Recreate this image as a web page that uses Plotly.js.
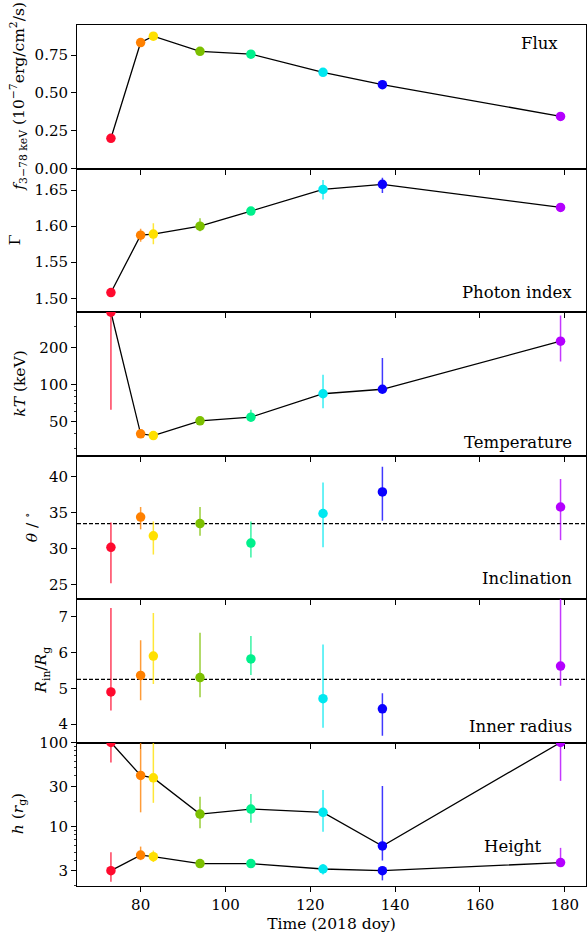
<!DOCTYPE html>
<html>
<head>
<meta charset="utf-8">
<script src="https://cdn.plot.ly/plotly-3.0.1.min.js"></script>
<style>
  html, body { margin: 0; padding: 0; background: #fff; }
  #chart { width: 587px; height: 933px; }
</style>
</head>
<body>
<div id="chart"></div>
<script>
// Observation epochs (day of year, 2018) and their colours
const days = [73, 80, 83, 94, 106, 123, 137, 179];
const pointColors = ['#ff0a2e', '#ff8000', '#ffe000', '#7cc000', '#00f08c', '#00e8f0', '#0a00ff', '#b400ff'];

// 3-78 keV flux (1e-7 erg/cm^2/s)
const flux = [0.20, 0.834, 0.876, 0.776, 0.757, 0.637, 0.555, 0.345];

// Photon index with upper / lower bounds
const gamma   = [1.508, 1.5875, 1.589, 1.600, 1.621, 1.651, 1.658, 1.626];
const gammaHi = [1.514, 1.5965, 1.604, 1.611, 1.626, 1.664, 1.667, 1.632];
const gammaLo = [1.502, 1.5785, 1.575, 1.593, 1.616, 1.637, 1.646, 1.620];

// Coronal temperature kT (keV)
const kT   = [390, 39.5, 38.2, 50.4, 54, 84, 91.4, 226];
const kTHi = [1000, 42, 40.5, 53, 62, 120, 165, 367];
const kTLo = [62, 37.5, 36.3, 48, 50, 64, 87, 154];

// Inclination (deg)
const incl   = [30.2, 34.4, 31.8, 33.5, 30.8, 34.9, 37.9, 35.8];
const inclHi = [33.65, 35.8, 33.8, 35.8, 33.8, 39.2, 41.4, 39.7];
const inclLo = [25.2, 32.7, 29.2, 31.8, 28.8, 30.2, 33.9, 31.2];
const inclMean = 33.5;

// Inner disc radius (R_g)
const rin   = [4.90, 5.36, 5.90, 5.30, 5.82, 4.71, 4.43, 5.62];
const rinHi = [7.24, 6.34, 7.10, 6.55, 6.46, 6.22, 4.86, 7.8];
const rinLo = [4.38, 4.67, 5.12, 4.75, 5.37, 3.90, 3.68, 5.07];
const rinMean = 5.25;

// Lamp-post heights (r_g): upper and lower source
const hUpper   = [100, 40.6, 38, 14.1, 16.2, 14.8, 5.9, 100];
const hUpperHi = [200, 200, 200, 22.7, 24.5, 27.2, 30.4, 200];
const hUpperLo = [58, 14.8, 19.2, 9.6, 11.1, 8.7, 3.96, 35];
const hLower   = [3.0, 4.6, 4.4, 3.64, 3.64, 3.14, 3.0, 3.74];
const hLowerHi = [4.97, 5.8, 5.2, 3.8, 3.8, 3.6, 3.3, 5.6];
const hLowerLo = [2.22, 4.0, 3.8, 3.5, 3.5, 2.7, 2.3, 3.6];

// Tick positions
const xTicks = [80, 100, 120, 140, 160, 180];
const fluxTicks = [0, 0.25, 0.5, 0.75];
const gammaTicks = [1.50, 1.55, 1.60, 1.65];
const kTTicks = [50, 100, 200];
const kTMinor = [30, 40, 60, 70, 80, 90, 300];
const inclTicks = [25, 30, 35, 40];
const rinTicks = [4, 5, 6, 7];
const hTicks = [3, 10, 30, 100];
const hMinor = [2, 4, 5, 6, 7, 8, 9, 20, 40, 50, 60, 70, 80, 90];

const SERIF = 'DejaVu Serif, serif';
const W = 587, H = 933;
const M = { l: 77, r: 1, t: 25, b: 47 };
const PW = W - M.l - M.r, PH = H - M.t - M.b;

function rgba(hex, a) {
  const n = parseInt(hex.slice(1), 16);
  return `rgba(${(n >> 16) & 255},${(n >> 8) & 255},${n & 255},${a})`;
}

const traces = [];

function addSeries(axisIdx, vals, hi, lo, withLine) {
  const xa = axisIdx === 1 ? 'x' : 'x' + axisIdx;
  const ya = axisIdx === 1 ? 'y' : 'y' + axisIdx;
  if (withLine) {
    traces.push({
      x: days, y: vals, xaxis: xa, yaxis: ya, type: 'scatter', mode: 'lines',
      line: { color: '#000', width: 1.3 }, hoverinfo: 'skip'
    });
  }
  days.forEach((d, i) => {
    const t = {
      x: [d], y: [vals[i]], xaxis: xa, yaxis: ya, type: 'scatter', mode: 'markers',
      marker: { color: pointColors[i], size: 9.5, line: { width: 0 } }
    };
    if (hi && lo) {
      t.error_y = {
        type: 'data', symmetric: false,
        array: [hi[i] - vals[i]], arrayminus: [vals[i] - lo[i]],
        color: rgba(pointColors[i], 0.78), thickness: 1.5, width: 0
      };
    }
    traces.push(t);
  });
}

addSeries(1, flux, null, null, true);
addSeries(2, gamma, gammaHi, gammaLo, true);
addSeries(3, kT, kTHi, kTLo, true);
addSeries(4, incl, inclHi, inclLo, false);
addSeries(5, rin, rinHi, rinLo, false);
addSeries(6, hUpper, hUpperHi, hUpperLo, true);
addSeries(6, hLower, hLowerHi, hLowerLo, true);

const tickFont = { family: SERIF, size: 15, color: '#000' };

const layout = {
  width: W, height: H, margin: M,
  paper_bgcolor: '#fff', plot_bgcolor: '#fff',
  showlegend: false,
  font: { family: SERIF, color: '#000' },
  annotations: [], shapes: []
};

const yAxes = [
  { tickvals: fluxTicks, tickformat: '.2f', range: [0, 0.95] },
  { tickvals: gammaTicks, tickformat: '.2f', range: [1.481, 1.680] },
  { type: 'log', tickvals: kTTicks, range: [1.419, 2.593], minorVals: kTMinor },
  { tickvals: inclTicks, range: [23.03, 42.95] },
  { tickvals: rinTicks, range: [3.49, 7.49] },
  { type: 'log', tickvals: hTicks, range: [0.295, 2.0], minorVals: hMinor }
];

for (let k = 1; k <= 6; k++) {
  const dom = [(6 - k) / 6, (7 - k) / 6];
  const xName = k === 1 ? 'xaxis' : 'xaxis' + k;
  const yName = k === 1 ? 'yaxis' : 'yaxis' + k;
  const yRef = k === 1 ? 'y' : 'y' + k;
  layout[xName] = {
    range: [65, 185], tickvals: xTicks, anchor: yRef,
    ticks: 'outside', ticklen: 5, tickwidth: 1, tickcolor: '#000',
    showticklabels: k === 6, tickfont: tickFont,
    showline: true, mirror: true, linecolor: '#000', linewidth: 1,
    showgrid: false, zeroline: false
  };
  if (k > 1) layout[xName].matches = 'x';
  const cfg = yAxes[k - 1];
  const ya = {
    domain: dom, anchor: k === 1 ? 'x' : 'x' + k,
    range: cfg.range, tickvals: cfg.tickvals,
    ticks: 'outside', ticklen: 5, tickwidth: 1, tickcolor: '#000',
    tickfont: tickFont,
    showline: true, mirror: true, linecolor: '#000', linewidth: 1,
    showgrid: false, zeroline: false
  };
  if (cfg.tickformat) ya.tickformat = cfg.tickformat;
  if (cfg.type) ya.type = cfg.type;
  if (cfg.minorVals) {
    ya.minor = { tickmode: 'array', tickvals: cfg.minorVals, ticks: 'outside',
                 ticklen: 2.5, tickwidth: 0.8, tickcolor: '#000', showgrid: false };
  }
  layout[yName] = ya;
}

layout.xaxis6.title = { text: 'Time (2018 doy)', font: { family: SERIF, size: 15.5, color: '#000' }, standoff: 6 };

// Reference lines for the mean inclination and inner radius
layout.shapes.push(
  { type: 'line', xref: 'x4 domain', x0: 0, x1: 1, yref: 'y4', y0: inclMean, y1: inclMean,
    line: { color: '#000', width: 1.2, dash: '4px,2px' }, layer: 'below' },
  { type: 'line', xref: 'x5 domain', x0: 0, x1: 1, yref: 'y5', y0: rinMean, y1: rinMean,
    line: { color: '#000', width: 1.2, dash: '4px,2px' }, layer: 'below' }
);

const px2x = px => (px - M.l) / PW;
const px2y = py => (H - M.b - py) / PH;

// Panel labels
const panelLabels = [
  ['Flux', 560, 43], ['Photon index', 574, 292], ['Temperature', 574, 442],
  ['Inclination', 574, 578], ['Inner radius', 574, 726], ['Height', 544, 846]
];
panelLabels.forEach(([txt, xr, yc]) => {
  layout.annotations.push({
    text: txt, xref: 'paper', yref: 'paper', x: px2x(xr), y: px2y(yc),
    xanchor: 'right', yanchor: 'middle', showarrow: false,
    font: { family: SERIF, size: 16.5, color: '#000' }
  });
});

// Y-axis titles
const yTitles = [
  ['<i>f</i><sub>3−78 keV</sub> (10<sup>−7</sup>erg/cm<sup>2</sup>/s)', 19, 1],
  ['Γ', 15, 2],
  ['<i>kT</i> (keV)', 20, 3],
  ['<i>θ</i> / <sup>∘</sup>', 31, 4],
  ['<i>R</i><sub>in</sub>/<i>R</i><sub>g</sub>', 42, 5],
  ['<i>h</i> (<i>r</i><sub>g</sub>)', 19, 6]
];
yTitles.forEach(([txt, xc, k]) => {
  layout.annotations.push({
    text: txt, xref: 'paper', yref: 'paper', x: px2x(xc), y: (6 - k + 0.5) / 6,
    xanchor: 'center', yanchor: 'middle', textangle: -90, showarrow: false,
    font: { family: SERIF, size: 15.5, color: '#000' }
  });
});

Plotly.newPlot('chart', traces, layout, { staticPlot: true, displayModeBar: false });
</script>
</body>
</html>
